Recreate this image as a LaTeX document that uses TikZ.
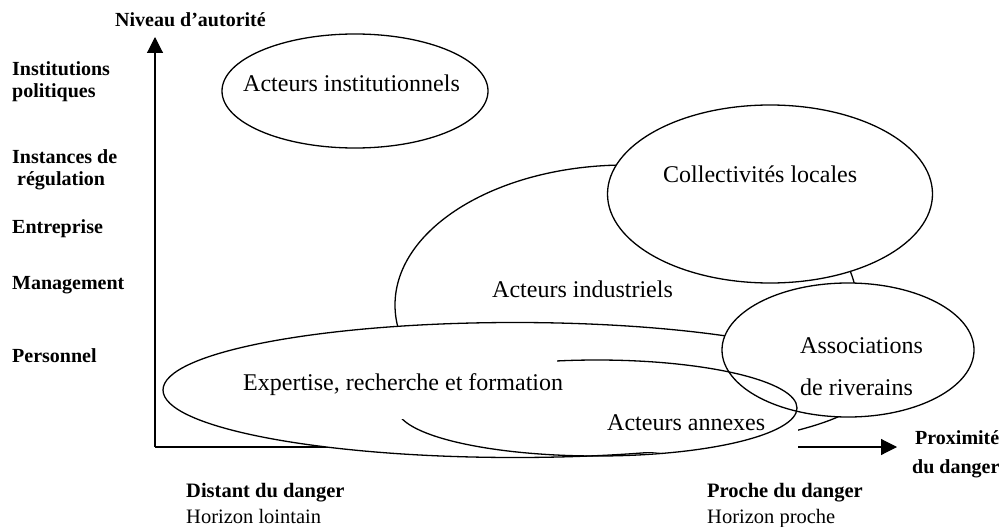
\documentclass[tikz,border=0pt]{standalone}
\usepackage{fontspec}
\setmainfont{Liberation Serif}
\usetikzlibrary{shapes.geometric,arrows.meta}

\tikzset{
  zone/.style={ellipse,draw,line width=1.3pt,inner sep=0pt},
  acteur/.style={anchor=base west,inner sep=0pt,font=\fontsize{24}{28}\selectfont},
  niveau/.style={anchor=base west,inner sep=0pt,font=\bfseries\fontsize{20}{24}\selectfont},
  horizon/.style={anchor=base west,inner sep=0pt,font=\fontsize{20.5}{24}\selectfont},
  fleche/.style={line width=1.1pt,-{Triangle[length=16pt,width=16pt]}}
}

\begin{document}
\begin{tikzpicture}[x=1pt,y=-1pt]
\useasboundingbox (0,0) rectangle (1006,527);

\coordinate (o) at (155,447);
\coordinate (ytop) at (155,37);
\coordinate (xend) at (897,447);
\draw[fleche] (o) -- (ytop);
\draw[fleche] (o) -- (xend);

\begin{scope}[every node/.style={zone,fill=white}]
    \node[minimum width=266pt,minimum height=114pt] (inst) at (355,91) {};
    \node[minimum width=462pt,minimum height=280pt] (indus) at (626,305) {};
    \node[minimum width=325pt,minimum height=178pt] (coll) at (770,194) {};
    \node[minimum width=704pt,minimum height=135pt] (expert) at (515,390) {};
    \node[minimum width=252pt,minimum height=134pt] (asso) at (848,350) {};
\end{scope}
\fill[white] (600,418) rectangle (798,452);
\node[zone,minimum width=400pt,minimum height=96pt] (annexe) at (597,408) {};
\fill[white] (235,352) rectangle (557,419);

\node[acteur] (tinst) at (243,91) {Acteurs institutionnels};
\node[acteur] (tcoll) at (663,182) {Collectivités locales};
\node[acteur] (tindus) at (492,297) {Acteurs industriels};
\node[acteur] (texpert) at (243,390) {Expertise, recherche et formation};
\node[acteur] (tasso1) at (800,353) {Associations};
\node[acteur] (tasso2) at (800,395) {de riverains};
\node[acteur] (tannexe) at (607,430) {Acteurs annexes};

\node[niveau] (ny) at (115,27) {Niveau d’autorité};
\node[niveau] (n1a) at (12,75) {Institutions};
\node[niveau] (n1b) at (12,97) {politiques};
\node[niveau] (n2a) at (12,163) {Instances de};
\node[niveau] (n2b) at (17,185) {régulation};
\node[niveau] (n3) at (12,233) {Entreprise};
\node[niveau] (n4) at (12,289) {Management};
\node[niveau] (n5) at (12,362) {Personnel};

\node[niveau] (px1) at (915,444) {Proximité};
\node[niveau] (px2) at (912,473) {du danger};
\node[niveau,font=\bfseries\fontsize{20.5}{24}\selectfont] (dist) at (186,497) {Distant du danger};
\node[horizon] (hdist) at (186,523) {Horizon lointain};
\node[niveau,font=\bfseries\fontsize{20.5}{24}\selectfont] (proche) at (707,497) {Proche du danger};
\node[horizon] (hproche) at (707,523) {Horizon proche};
\end{tikzpicture}
\end{document}
